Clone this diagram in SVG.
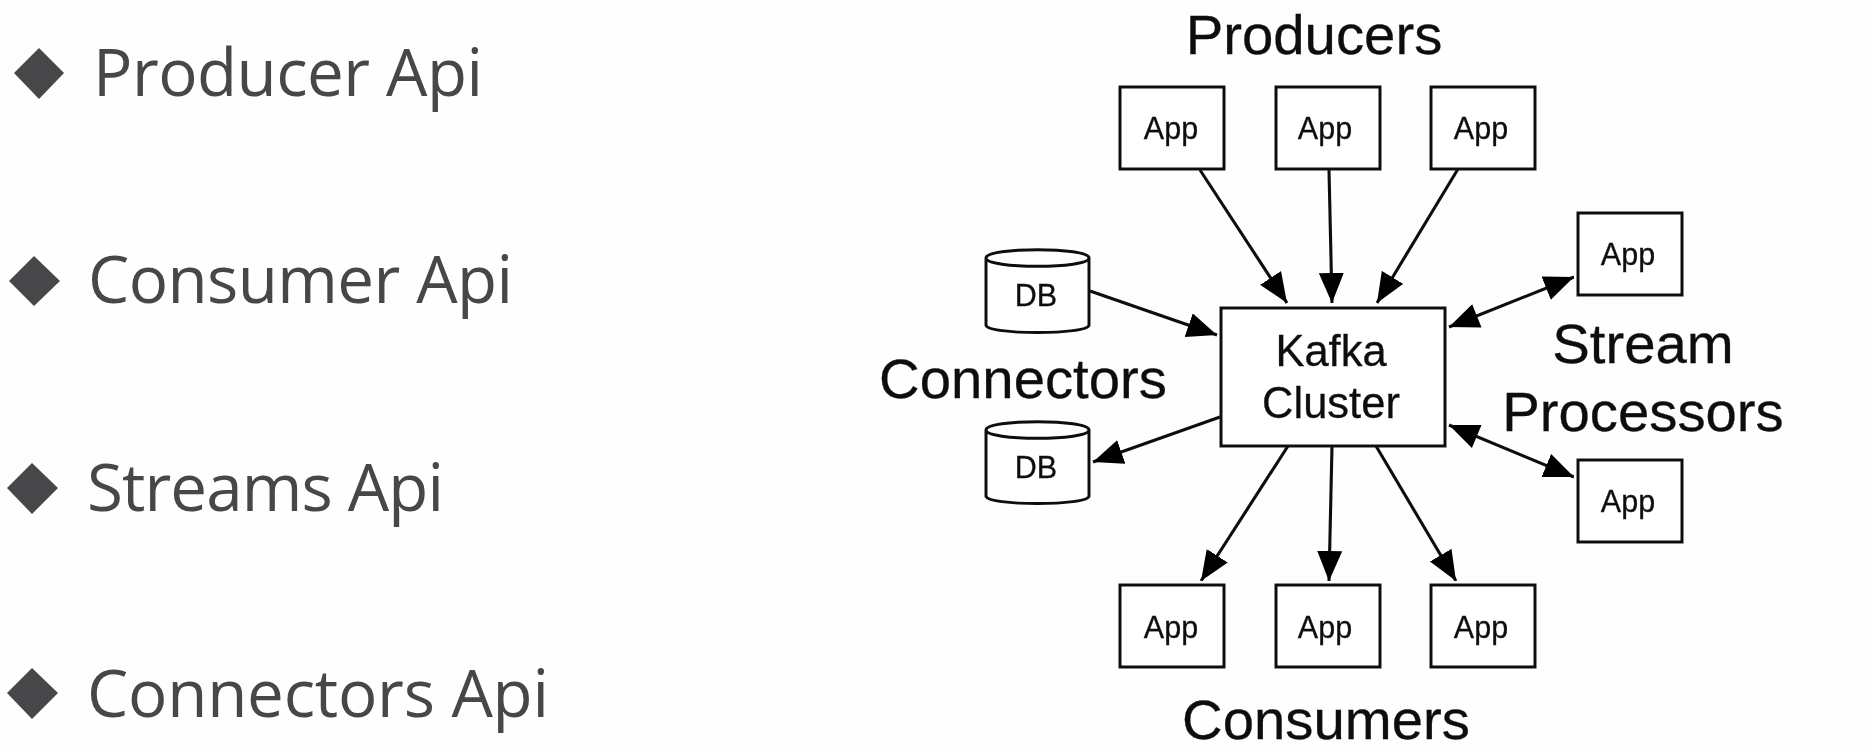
<svg xmlns="http://www.w3.org/2000/svg" width="1874" height="752" viewBox="0 0 1874 752">
<style>
.api{font-family:"Open Sans","Noto Sans",sans-serif;font-size:65.5px;fill:#47474a}
.bul{fill:#47474a}
.n{fill:#fff;stroke:#111;stroke-width:3}
.t{font-family:"Liberation Sans",Arial,sans-serif;fill:#111;text-anchor:middle;stroke:#111;stroke-width:.3}
.app{font-size:30.5px}
.big{font-size:56.3px}
.kafka{font-size:43.5px}
.c{fill:none;stroke:#111;stroke-width:3.1}
.ah{fill:#000}
</style>
<defs>
<filter id="soft" x="0" y="0" width="1" height="1" filterUnits="objectBoundingBox"><feGaussianBlur stdDeviation="0.5"/></filter>
<marker id="end" markerUnits="userSpaceOnUse" markerWidth="32" markerHeight="26" refX="30" refY="12.5" orient="auto"><path class="ah" d="M0 0L30 12.5L0 25Z"/></marker>
<marker id="start" markerUnits="userSpaceOnUse" markerWidth="32" markerHeight="26" refX="0" refY="12.5" orient="auto"><path class="ah" d="M30 0L0 12.5L30 25Z"/></marker>
<g id="appbox"><rect class="n" width="104" height="82"/></g>
</defs>
<rect width="1874" height="752" fill="#fefefe"/>
<g id="api-list">
<g id="api-producer"><path class="bul" d="M39 48L64 73L39 99L14 73Z"/><text class="api" x="93" y="96" textLength="390">Producer Api</text></g>
<g id="api-consumer"><path class="bul" d="M34 256L60 281L34 306L9 281Z"/><text class="api" x="88" y="303" textLength="425">Consumer Api</text></g>
<g id="api-streams"><path class="bul" d="M32 463L58 488L32 514L7 488Z"/><text class="api" x="87" y="511" textLength="357">Streams Api</text></g>
<g id="api-connectors"><path class="bul" d="M32 668L58 693L32 719L7 693Z"/><text class="api" x="87" y="717" textLength="462">Connectors Api</text></g>
</g>
<g id="connectors" filter="url(#soft)">
<path class="c" marker-end="url(#end)" d="M1200 170L1287 303"/>
<path class="c" marker-end="url(#end)" d="M1329 170L1332 303"/>
<path class="c" marker-end="url(#end)" d="M1458 169L1377 303"/>
<path class="c" marker-end="url(#end)" d="M1090 291L1217 335"/>
<path class="c" marker-start="url(#start)" marker-end="url(#end)" d="M1449 327L1574 277"/>
<path class="c" marker-start="url(#start)" marker-end="url(#end)" d="M1449 425L1574 477"/>
<path class="c" marker-end="url(#end)" d="M1220 417L1093 462"/>
<path class="c" marker-end="url(#end)" d="M1288 446L1201 581"/>
<path class="c" marker-end="url(#end)" d="M1332 446L1329 581"/>
<path class="c" marker-end="url(#end)" d="M1376 446L1456 581"/>
</g>
<g id="diagram-nodes" filter="url(#soft)">
<g id="app-p1"><use href="#appbox" x="1120" y="87"/><text class="t app" x="1171" y="139">App</text></g>
<g id="app-p2"><use href="#appbox" x="1276" y="87"/><text class="t app" x="1325" y="139">App</text></g>
<g id="app-p3"><use href="#appbox" x="1431" y="87"/><text class="t app" x="1481" y="139">App</text></g>
<g id="app-s1"><use href="#appbox" x="1578" y="213"/><text class="t app" x="1628" y="265">App</text></g>
<g id="app-s2"><use href="#appbox" x="1578" y="460"/><text class="t app" x="1628" y="512">App</text></g>
<g id="app-c1"><use href="#appbox" x="1120" y="585"/><text class="t app" x="1171" y="638">App</text></g>
<g id="app-c2"><use href="#appbox" x="1276" y="585"/><text class="t app" x="1325" y="638">App</text></g>
<g id="app-c3"><use href="#appbox" x="1431" y="585"/><text class="t app" x="1481" y="638">App</text></g>
<g id="kafka"><rect class="n" x="1221" y="308" width="224" height="138"/><text class="t kafka" x="1331" y="366">Kafka</text><text class="t kafka" x="1331" y="418">Cluster</text></g>
<g id="db1"><path class="n" d="M986 258V325C986 335 1089 335 1089 325V258C1089 247 986 247 986 258C986 269 1089 269 1089 258"/><text class="t app" x="1036" y="306">DB</text></g>
<g id="db2"><path class="n" d="M986 430V496C986 506 1089 506 1089 496V430C1089 419 986 419 986 430C986 441 1089 441 1089 430"/><text class="t app" x="1036" y="478">DB</text></g>
<g id="labels">
<text class="t big" x="1314" y="54">Producers</text>
<text class="t big" x="1023" y="398">Connectors</text>
<text class="t big" x="1643" y="363">Stream</text>
<text class="t big" x="1643" y="431">Processors</text>
<text class="t big" x="1326" y="739">Consumers</text>
</g>
</g>
</svg>
